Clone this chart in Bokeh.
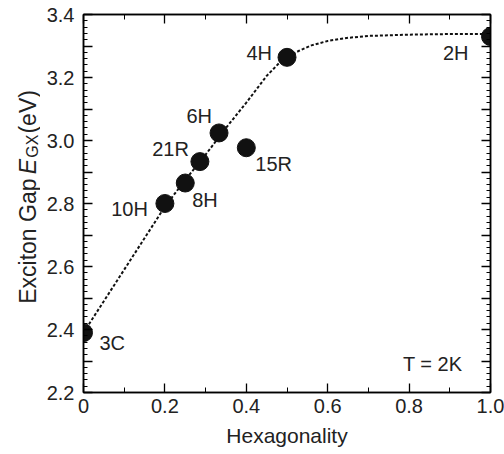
from math import pi
from bokeh.plotting import figure
from bokeh.layouts import row
from bokeh.models import (ColumnDataSource, Label, LinearAxis, FixedTicker,
                          Range1d, CustomJSTickFormatter)
from bokeh.core.properties import value, field
from bokeh.embed import file_html
from bokeh.resources import INLINE

# ---- data ----
polytypes = ["3C", "10H", "8H", "21R", "6H", "15R", "4H", "2H"]
hexagonality = [0.0, 0.2, 0.25, 0.286, 0.333, 0.4, 0.5, 1.0]
exciton_gap = [2.39, 2.80, 2.865, 2.933, 3.024, 2.977, 3.264, 3.330]

curve_x = [0.0, 0.1, 0.2, 0.25, 0.3, 0.35, 0.4, 0.45, 0.48, 0.5, 0.53, 0.56,
           0.6, 0.65, 0.7, 0.8, 0.9, 1.0]
curve_y = [2.39, 2.59, 2.79, 2.875, 2.955, 3.04, 3.12, 3.205, 3.245, 3.265,
           3.285, 3.302, 3.316, 3.326, 3.332, 3.336, 3.338, 3.338]

x_major = [0.0, 0.2, 0.4, 0.6, 0.8, 1.0]
x_minor = [0.1, 0.3, 0.5, 0.7, 0.9]
y_major = [2.2, 2.3, 2.4, 2.5, 2.6, 2.7, 2.8, 2.9, 3.0, 3.1, 3.2, 3.3, 3.4]
y_minor = [round(2.2 + 0.02 * i, 2) for i in range(61)]

# y-axis title split into pieces
ylabel_parts = ["Exciton Gap", "E", "GX", "(eV)"]

# label placement (styling)
label_align = ["left", "right", "left", "right", "right", "left", "right", "right"]
label_dx = [16, -17, 7, -11, -7, 9, -15, -22]
label_dy = [10, 5, 17, -13, -17, 16, -4, 16]

FONT = "Liberation Sans"
LEFT_W = 40

p = figure(width=504 - LEFT_W, height=454, output_backend="svg",
           toolbar_location=None,
           x_range=Range1d(0, 1), y_range=Range1d(2.2, 3.4),
           min_border_left=83 - LEFT_W, min_border_right=14, min_border_top=14,
           min_border_bottom=62)
p.grid.visible = False
p.outline_line_color = "black"
p.outline_line_width = 1.5
p.background_fill_color = "white"
p.border_fill_color = "white"

def style_axis(ax, major, minor, fmt_code, size="20px"):
    ax.ticker = FixedTicker(ticks=major, minor_ticks=minor)
    ax.formatter = CustomJSTickFormatter(code=fmt_code)
    ax.axis_line_color = "black"
    ax.axis_line_width = 1.5
    ax.major_tick_line_color = "black"
    ax.minor_tick_line_color = "black"
    ax.major_tick_line_width = 1.3
    ax.minor_tick_line_width = 1.0
    ax.major_tick_out = 0
    ax.minor_tick_out = 0
    ax.major_label_text_font = FONT
    ax.major_label_text_font_size = size
    ax.major_label_text_color = "#222222"

xfmt = "return tick == 0 ? '0' : tick.toFixed(1);"
yfmt = "return (Math.round(tick*10) % 2 == 0) ? tick.toFixed(1) : '';"
blank = "return '';"

xa = p.xaxis[0]
style_axis(xa, x_major, x_minor, xfmt)
xa.major_tick_in = 9
xa.minor_tick_in = 5
xa.major_label_standoff = 6
xa.axis_label = "Hexagonality"
xa.axis_label_text_font = FONT
xa.axis_label_text_font_size = "21px"
xa.axis_label_text_font_style = "normal"
xa.axis_label_text_color = "#222222"
xa.axis_label_standoff = 8

ya = p.yaxis[0]
style_axis(ya, y_major, y_minor, yfmt)
ya.major_tick_in = 9
ya.minor_tick_in = 4
ya.major_label_standoff = 9

top = LinearAxis()
style_axis(top, x_major, x_minor, blank, size="0px")
top.major_tick_in = 9
top.minor_tick_in = 5
top.major_label_standoff = 0
p.add_layout(top, "above")

right = LinearAxis()
style_axis(right, y_major, y_minor, blank, size="0px")
right.major_tick_in = 9
right.minor_tick_in = 4
right.major_label_standoff = 0
p.add_layout(right, "right")

# dotted guide curve
p.line(curve_x, curve_y, line_color="#111111", line_width=2, line_dash="3 2")

src = ColumnDataSource(dict(x=hexagonality, y=exciton_gap, name=polytypes,
                            align=label_align, dx=label_dx, dy=label_dy))
p.scatter("x", "y", source=src, size=18, fill_color="#111111",
          line_color="#111111")
p.text(x="x", y="y", text="name", source=src, text_align=field("align"),
       x_offset="dx", y_offset="dy", text_baseline="middle",
       text_font=value(FONT), text_font_size="20px", text_color="#222222")

p.add_layout(Label(x=0.931, y=2.292, text="T = 2K", text_align="right",
                   text_baseline="middle", text_font=FONT,
                   text_font_size="20px", text_color="#222222"))

# ---- narrow strip holding the rotated y-axis title "Exciton Gap E_GX (eV)" ----
q = figure(width=LEFT_W, height=454, output_backend="svg", toolbar_location=None,
           x_range=Range1d(0, LEFT_W), y_range=Range1d(0, 454), min_border=0,
           x_axis_type=None, y_axis_type=None)
q.grid.visible = False
q.outline_line_color = None
q.border_fill_color = "white"
q.background_fill_color = "white"

piece_top = [197, 192, 172, 143]
piece_base = [27, 27, 32, 27]
piece_align = ["right", "left", "left", "left"]
piece_style = ["normal", "italic", "normal", "normal"]
piece_size = ["23px", "23px", "16px", "23px"]

ysrc = ColumnDataSource(dict(
    x=piece_base, y=[454 - t for t in piece_top], txt=ylabel_parts,
    align=piece_align, style=piece_style, size=piece_size))
q.text(x="x", y="y", text="txt", source=ysrc, angle=pi / 2,
       text_align=field("align"), text_baseline="alphabetic",
       text_font=value(FONT), text_font_style=field("style"),
       text_font_size=field("size"), text_color="#222222")

layout = row(q, p, spacing=0)
open("out.html", "w").write(file_html(layout, INLINE))
